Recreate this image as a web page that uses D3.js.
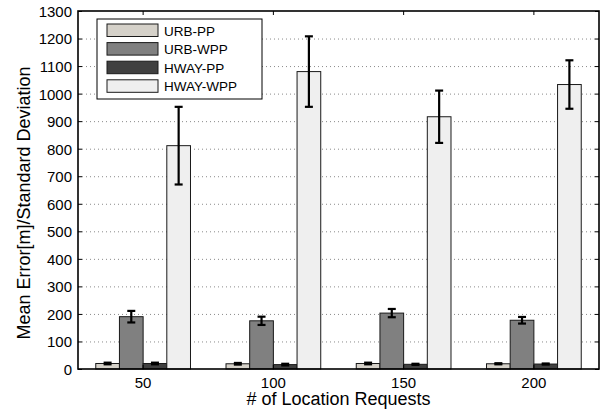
<!DOCTYPE html>
<html lang='en'>
  <head>
    <meta charset='utf-8'>
    <title>Mean Error / Standard Deviation</title>
    <script type='text/javascript' src='https://cdn.jsdelivr.net/npm/d3@7'></script>
    <style type='text/css'>
    body{ margin: 0; background: #fff; }
    text{ font-family: 'Liberation Sans', Arial, sans-serif; fill: #000; }
    .grid line{ stroke: #8a8a8a; stroke-dasharray: 1,3; }
    </style>
  </head>
  <body>
    <script type='text/javascript'>

    var w = 605;
    var h = 414;

    // data
    var requests = ['50', '100', '150', '200'];
    var seriesNames = ['URB-PP', 'URB-WPP', 'HWAY-PP', 'HWAY-WPP'];
    var seriesColors = ['#d5d1c9', '#808080', '#404040', '#efefef'];
    var urbPP = [20, 19, 20, 19];
    var urbPPErr = [3, 3, 3, 2];
    var urbWPP = [190, 175, 203, 177];
    var urbWPPErr = [21, 15, 15, 12];
    var hwayPP = [20, 16, 17, 18];
    var hwayPPErr = [3, 3, 2, 2];
    var hwayWPP = [811, 1080, 916, 1033];
    var hwayWPPErr = [141, 128, 95, 88];
    var yTicks = d3.range(0, 1301, 100);

    var means = [urbPP, urbWPP, hwayPP, hwayWPP];
    var errs = [urbPPErr, urbWPPErr, hwayPPErr, hwayWPPErr];

    var rows = [];
    requests.forEach(function(r, i){
      seriesNames.forEach(function(s, j){
        rows.push({req: r, series: s, idx: j, mean: means[j][i], err: errs[j][i]});
      });
    });

    var pLeft = 78, pRight = 599, pTop = 11, pBottom = 369;

    var svg = d3.select('body')
                .append('svg')
                .attr('width', w)
                .attr('height', h);

    var xScale = d3.scaleBand()
                   .domain(requests)
                   .range([pLeft, pRight])
                   .paddingInner(1.5 / 5.5)
                   .paddingOuter(0.75 / 5.5);

    var xInner = d3.scaleBand()
                   .domain(seriesNames)
                   .range([0, xScale.bandwidth()]);

    var yScale = d3.scaleLinear()
                   .domain([0, 1300])
                   .range([pBottom, pTop]);

    // dotted grid
    svg.append('g')
       .attr('class', 'grid')
       .selectAll('line')
       .data(yTicks.slice(1, -1))
       .enter()
       .append('line')
       .attr('x1', pLeft)
       .attr('x2', pRight)
       .attr('y1', function(d){ return yScale(d) + 0.5; })
       .attr('y2', function(d){ return yScale(d) + 0.5; });

    // bars
    svg.append('g')
       .selectAll('rect')
       .data(rows)
       .enter()
       .append('rect')
       .attr('x', function(d){ return xScale(d.req) + xInner(d.series); })
       .attr('y', function(d){ return yScale(d.mean); })
       .attr('width', xInner.bandwidth())
       .attr('height', function(d){ return yScale(0) - yScale(d.mean); })
       .attr('fill', function(d){ return seriesColors[d.idx]; })
       .attr('stroke', '#1a1a1a')
       .attr('stroke-width', 1);

    // error bars
    var eb = svg.append('g')
                .attr('stroke', '#000')
                .attr('stroke-width', 2.2)
                .selectAll('g')
                .data(rows)
                .enter()
                .append('g')
                .attr('transform', function(d){
                  return 'translate(' + (xScale(d.req) + xInner(d.series) + xInner.bandwidth() / 2) + ',0)';
                });
    eb.append('line')
      .attr('y1', function(d){ return yScale(d.mean + d.err); })
      .attr('y2', function(d){ return yScale(d.mean - d.err); });
    eb.append('line')
      .attr('x1', -4).attr('x2', 4)
      .attr('y1', function(d){ return yScale(d.mean + d.err); })
      .attr('y2', function(d){ return yScale(d.mean + d.err); });
    eb.append('line')
      .attr('x1', -4).attr('x2', 4)
      .attr('y1', function(d){ return yScale(d.mean - d.err); })
      .attr('y2', function(d){ return yScale(d.mean - d.err); });

    // axes
    var yAxis = d3.axisLeft(yScale)
                  .tickValues(yTicks)
                  .tickFormat(d3.format('d'))
                  .tickSizeInner(-4)
                  .tickSizeOuter(0)
                  .tickPadding(6);
    var yAxisR = d3.axisRight(yScale)
                   .tickValues(yTicks)
                   .tickSizeInner(-4)
                   .tickSizeOuter(0)
                   .tickFormat('');
    var xAxis = d3.axisBottom(xScale)
                  .tickSizeInner(-4)
                  .tickSizeOuter(0)
                  .tickPadding(8);
    var xAxisT = d3.axisTop(xScale)
                   .tickSizeInner(-4)
                   .tickSizeOuter(0)
                   .tickFormat('');

    var gy = svg.append('g')
       .attr('transform', 'translate(' + pLeft + ',0)')
       .call(yAxis);
    svg.append('g')
       .attr('transform', 'translate(' + pRight + ',0)')
       .call(yAxisR);
    var gx = svg.append('g')
       .attr('transform', 'translate(0,' + pBottom + ')')
       .call(xAxis);
    svg.append('g')
       .attr('transform', 'translate(0,' + pTop + ')')
       .call(xAxisT);

    svg.selectAll('.domain').remove();
    svg.selectAll('.tick line').attr('stroke', '#000').attr('stroke-width', 1);
    svg.selectAll('g').attr('font-family', null);
    gy.selectAll('text').attr('font-size', '15px').attr('dy', '0.36em');
    gx.selectAll('text').attr('font-size', '15px');

    // frame
    svg.append('rect')
       .attr('x', pLeft)
       .attr('y', pTop)
       .attr('width', pRight - pLeft)
       .attr('height', pBottom - pTop)
       .attr('fill', 'none')
       .attr('stroke', '#000')
       .attr('stroke-width', 1.6);

    // titles
    svg.append('text')
       .attr('x', (pLeft + pRight) / 2)
       .attr('y', 405)
       .attr('text-anchor', 'middle')
       .attr('font-size', '18px')
       .text('# of Location Requests');

    svg.append('text')
       .attr('transform', 'translate(30,' + 203 + ') rotate(-90)')
       .attr('text-anchor', 'middle')
       .attr('font-size', '18px')
       .text('Mean Error[m]/Standard Deviation');

    // legend
    var legend = svg.append('g')
                    .attr('transform', 'translate(97,19)');
    legend.append('rect')
          .attr('width', 165)
          .attr('height', 80)
          .attr('fill', '#fff')
          .attr('stroke', '#000')
          .attr('stroke-width', 1);
    var item = legend.selectAll('g')
                     .data(seriesNames)
                     .enter()
                     .append('g')
                     .attr('transform', function(d, i){
                       return 'translate(10,' + (5 + i * 18.6) + ')';
                     });
    item.append('rect')
        .attr('width', 51)
        .attr('height', 12.5)
        .attr('fill', function(d, i){ return seriesColors[i]; })
        .attr('stroke', '#1a1a1a')
        .attr('stroke-width', 1);
    item.append('text')
        .attr('x', 57)
        .attr('y', 11.5)
        .attr('font-size', '13.5px')
        .text(function(d){ return d; });

    </script>
  </body>
</html>
